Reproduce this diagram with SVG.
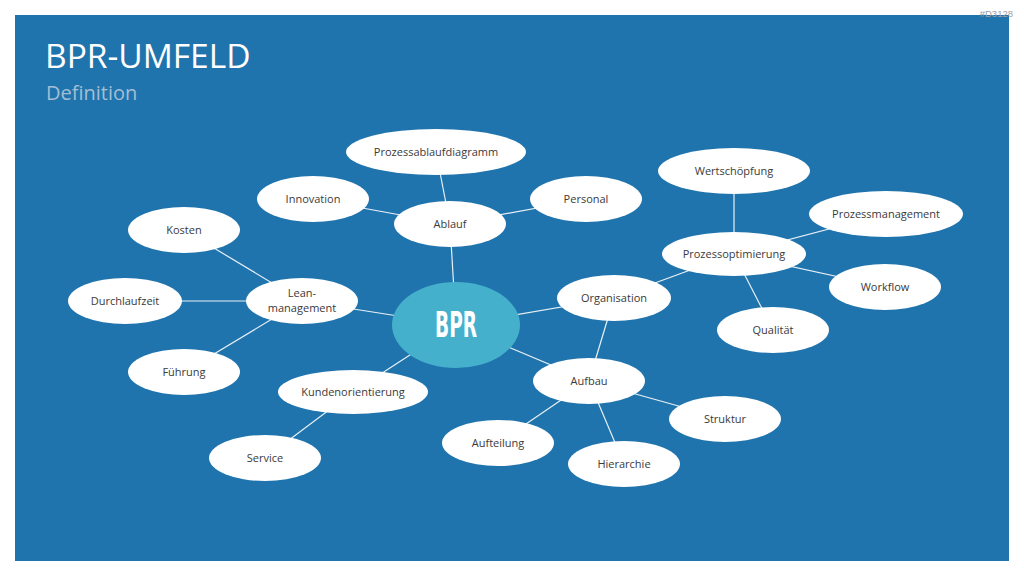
<svg xmlns="http://www.w3.org/2000/svg" width="1024" height="576" viewBox="0 0 1024 576">
<style>
.n{fill:#fff}
.t{font-family:"Open Sans","Liberation Sans",sans-serif;font-size:11px;fill:#3a3a3a;text-anchor:middle}
.c line{stroke:#e8f0f7;stroke-width:1.2}
</style>
<rect width="1024" height="576" fill="#fff"/>
<rect x="15" y="15" width="994" height="546" fill="#1f74ad"/>
<text x="1013" y="17" font-family="Liberation Sans,sans-serif" font-size="9.5" fill="#a0a0a0" text-anchor="end">#D3128</text>
<text x="45" y="68" font-family="Open Sans,Liberation Sans,sans-serif" font-size="33.5" fill="#fff">BPR-UMFELD</text>
<text x="46" y="100" font-family="Open Sans,Liberation Sans,sans-serif" font-size="20" fill="#a3bed3">Definition</text>
<g class="c" id="connectors">
<line x1="436" y1="152" x2="450" y2="224"/>
<line x1="313" y1="199" x2="450" y2="224"/>
<line x1="586" y1="199" x2="450" y2="224"/>
<line x1="450" y1="224" x2="456" y2="325"/>
<line x1="184" y1="230" x2="302" y2="301"/>
<line x1="125" y1="301" x2="302" y2="301"/>
<line x1="184" y1="372" x2="302" y2="301"/>
<line x1="302" y1="301" x2="456" y2="325"/>
<line x1="353" y1="392" x2="456" y2="325"/>
<line x1="265" y1="458" x2="353" y2="392"/>
<line x1="614" y1="298" x2="456" y2="325"/>
<line x1="589" y1="381" x2="456" y2="325"/>
<line x1="614" y1="298" x2="589" y2="381"/>
<line x1="589" y1="381" x2="498" y2="443"/>
<line x1="589" y1="381" x2="624" y2="464"/>
<line x1="589" y1="381" x2="725" y2="419"/>
<line x1="614" y1="298" x2="734" y2="254"/>
<line x1="734" y1="171" x2="734" y2="254"/>
<line x1="886" y1="214" x2="734" y2="254"/>
<line x1="885" y1="287" x2="734" y2="254"/>
<line x1="773" y1="330" x2="734" y2="254"/>
</g>
<g id="bpr"><ellipse cx="456" cy="325" rx="64" ry="43" fill="#45b0cc"/><text x="456" y="337" font-family="Liberation Sans Narrow,DejaVu Sans Condensed,sans-serif" font-weight="bold" font-size="36" fill="#fff" text-anchor="middle" textLength="42" lengthAdjust="spacingAndGlyphs">BPR</text></g>
<g id="prozessablaufdiagramm"><ellipse class="n" cx="436" cy="152" rx="90" ry="23"/><text class="t" x="436" y="156">Prozessablaufdiagramm</text></g>
<g id="innovation"><ellipse class="n" cx="313" cy="199" rx="56" ry="23"/><text class="t" x="313" y="203">Innovation</text></g>
<g id="ablauf"><ellipse class="n" cx="450" cy="224" rx="56" ry="23"/><text class="t" x="450" y="228">Ablauf</text></g>
<g id="personal"><ellipse class="n" cx="586" cy="199" rx="56" ry="23"/><text class="t" x="586" y="203">Personal</text></g>
<g id="kosten"><ellipse class="n" cx="184" cy="230" rx="56" ry="23"/><text class="t" x="184" y="234">Kosten</text></g>
<g id="leanmanagement"><ellipse class="n" cx="302" cy="301" rx="56" ry="23"/><text class="t" x="302" y="297">Lean-</text><text class="t" x="302" y="312">management</text></g>
<g id="durchlaufzeit"><ellipse class="n" cx="125" cy="301" rx="57" ry="23"/><text class="t" x="125" y="305">Durchlaufzeit</text></g>
<g id="fuehrung"><ellipse class="n" cx="184" cy="372" rx="56" ry="23"/><text class="t" x="184" y="376">Führung</text></g>
<g id="kundenorientierung"><ellipse class="n" cx="353" cy="392" rx="75" ry="22"/><text class="t" x="353" y="396">Kundenorientierung</text></g>
<g id="service"><ellipse class="n" cx="265" cy="458" rx="56" ry="23"/><text class="t" x="265" y="462">Service</text></g>
<g id="wertschoepfung"><ellipse class="n" cx="734" cy="171" rx="76" ry="23"/><text class="t" x="734" y="175">Wertschöpfung</text></g>
<g id="prozessmanagement"><ellipse class="n" cx="886" cy="214" rx="77" ry="23"/><text class="t" x="886" y="218">Prozessmanagement</text></g>
<g id="prozessoptimierung"><ellipse class="n" cx="734" cy="254" rx="72" ry="22"/><text class="t" x="734" y="258">Prozessoptimierung</text></g>
<g id="workflow"><ellipse class="n" cx="885" cy="287" rx="56" ry="23"/><text class="t" x="885" y="291">Workflow</text></g>
<g id="qualitaet"><ellipse class="n" cx="773" cy="330" rx="56" ry="23"/><text class="t" x="773" y="334">Qualität</text></g>
<g id="organisation"><ellipse class="n" cx="614" cy="298" rx="57" ry="23"/><text class="t" x="614" y="302">Organisation</text></g>
<g id="aufbau"><ellipse class="n" cx="589" cy="381" rx="56" ry="23"/><text class="t" x="589" y="385">Aufbau</text></g>
<g id="struktur"><ellipse class="n" cx="725" cy="419" rx="56" ry="23"/><text class="t" x="725" y="423">Struktur</text></g>
<g id="aufteilung"><ellipse class="n" cx="498" cy="443" rx="56" ry="23"/><text class="t" x="498" y="447">Aufteilung</text></g>
<g id="hierarchie"><ellipse class="n" cx="624" cy="464" rx="56" ry="23"/><text class="t" x="624" y="468">Hierarchie</text></g>
</svg>
